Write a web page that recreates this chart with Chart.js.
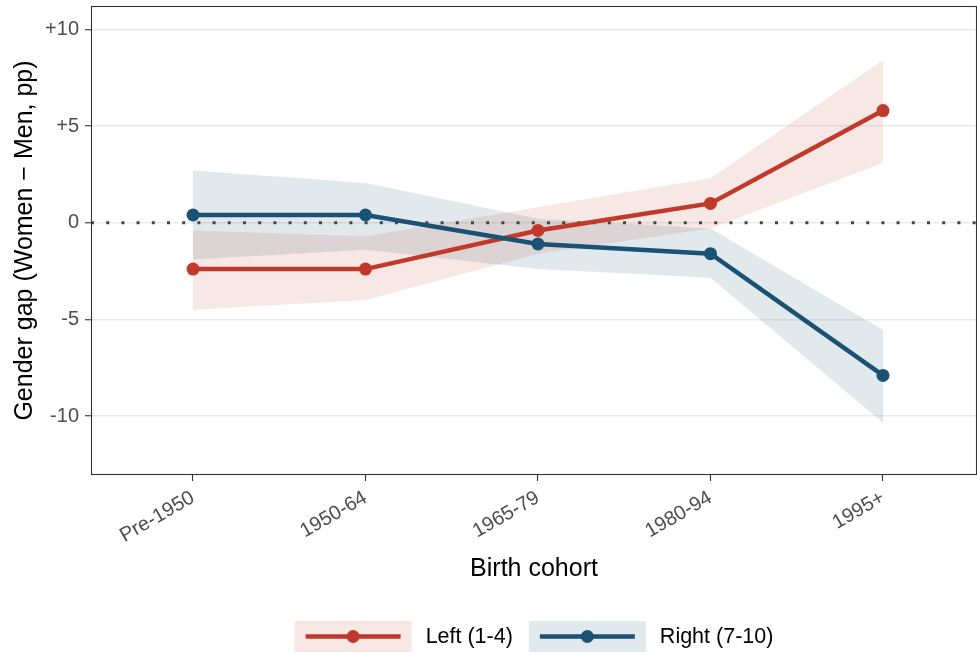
<!DOCTYPE html>
<html>
<head>
<meta charset="utf-8">
<script src="https://cdn.jsdelivr.net/npm/chart.js@4.4.0/dist/chart.umd.min.js"></script>
<style>
  html, body { margin: 0; padding: 0; background: #fff; }
</style>
</head>
<body>
<canvas id="gapChart" width="977" height="654"></canvas>
<script>
const cohorts = ['Pre-1950', '1950-64', '1965-79', '1980-94', '1995+'];
const yTicks = [-10, -5, 0, 5, 10];

// Left (1-4): estimate with 95% interval
const leftGap  = [-2.4, -2.4, -0.4, 1.0, 5.8];
const leftLow  = [-4.5, -4.0, -1.6, -0.3, 3.1];
const leftHigh = [-0.4, -0.7, 0.8, 2.3, 8.4];

// Right (7-10)
const rightGap  = [0.4, 0.4, -1.1, -1.6, -7.9];
const rightLow  = [-1.9, -1.4, -2.4, -2.85, -10.35];
const rightHigh = [2.7, 2.05, 0.2, -0.3, -5.55];

const RED = '#c0392b';
const BLUE = '#1a5276';
const RED_BAND = 'rgba(192, 57, 43, 0.12)';
const BLUE_BAND = 'rgba(26, 82, 118, 0.13)';
const FONT = "'Liberation Sans', Arial, Helvetica, sans-serif";

const pts = arr => arr.map((v, i) => ({ x: i + 1, y: v }));

const band = (data, fill, color) => ({
  data: pts(data),
  fill: fill,
  backgroundColor: color,
  borderColor: 'transparent',
  borderWidth: 0,
  pointRadius: 0,
  pointHoverRadius: 0,
  order: 5
});

const line = (label, data, color, order) => ({
  label: label,
  data: pts(data),
  borderColor: color,
  backgroundColor: color,
  borderWidth: 4.5,
  pointRadius: 6.5,
  pointHoverRadius: 6.5,
  pointBorderWidth: 0,
  pointBackgroundColor: color,
  fill: false,
  order: order
});

const legendItems = [
  { label: 'Left (1-4)', color: RED, band: RED_BAND },
  { label: 'Right (7-10)', color: BLUE, band: BLUE_BAND }
];

// zero reference line, drawn over the ribbons but under the lines
const zeroLine = {
  id: 'zeroLine',
  beforeDatasetDraw(chart, args) {
    if (args.index !== 4) return;
    const { ctx, chartArea } = chart;
    const y = chart.scales.y.getPixelForValue(0);
    ctx.save();
    ctx.strokeStyle = '#454545';
    ctx.lineWidth = 3;
    ctx.setLineDash([3, 12.2]);
    ctx.beginPath();
    ctx.moveTo(chartArea.left, y);
    ctx.lineTo(chartArea.right, y);
    ctx.stroke();
    ctx.restore();
  }
};

// panel frame and bottom legend
const frame = {
  id: 'frame',
  afterDraw(chart) {
    const { ctx, chartArea } = chart;
    ctx.save();
    ctx.strokeStyle = '#333333';
    ctx.lineWidth = 1.1;
    ctx.strokeRect(chartArea.left + 0.5, chartArea.top + 0.5,
      chartArea.right - chartArea.left - 1, chartArea.bottom - chartArea.top - 1);

    const boxW = 117, boxH = 31, gapText = 14, gapItem = 16;
    ctx.font = '21.5px ' + FONT;
    const widths = legendItems.map(it => ctx.measureText(it.label).width);
    let total = gapItem * (legendItems.length - 1);
    widths.forEach(w => { total += boxW + gapText + w; });
    let x = (chartArea.left + chartArea.right) / 2 - total / 2;
    const top = 621;
    const cy = top + boxH / 2;
    legendItems.forEach((it, i) => {
      ctx.fillStyle = it.band;
      ctx.fillRect(x, top, boxW, boxH);
      ctx.strokeStyle = it.color;
      ctx.lineWidth = 4.5;
      ctx.beginPath();
      ctx.moveTo(x + 11, cy);
      ctx.lineTo(x + boxW - 11, cy);
      ctx.stroke();
      ctx.fillStyle = it.color;
      ctx.beginPath();
      ctx.arc(x + boxW / 2, cy, 6.5, 0, Math.PI * 2);
      ctx.fill();
      ctx.fillStyle = '#000';
      ctx.textAlign = 'left';
      ctx.textBaseline = 'middle';
      ctx.fillText(it.label, x + boxW + gapText, cy + 1);
      x += boxW + gapText + widths[i] + gapItem;
    });
    ctx.restore();
  }
};

new Chart(document.getElementById('gapChart'), {
  type: 'line',
  data: {
    datasets: [
      band(leftLow, false, 'transparent'),
      band(leftHigh, '-1', RED_BAND),
      band(rightLow, false, 'transparent'),
      band(rightHigh, '-1', BLUE_BAND),
      line('Left (1-4)', leftGap, RED, 1),
      line('Right (7-10)', rightGap, BLUE, 0)
    ]
  },
  options: {
    responsive: false,
    animation: false,
    layout: {
      autoPadding: false,
      padding: { top: 6, right: 0, bottom: 70, left: 0 }
    },
    plugins: {
      legend: { display: false },
      tooltip: { enabled: false }
    },
    scales: {
      x: {
        type: 'linear',
        min: 0.4087,
        max: 5.545,
        afterBuildTicks: axis => { axis.ticks = cohorts.map((c, i) => ({ value: i + 1 })); },
        afterFit: axis => {
          axis.height = 109;
          axis.paddingLeft = 0;
          axis.paddingRight = 0;
        },
        border: { display: false },
        grid: {
          drawOnChartArea: false,
          tickLength: 6,
          tickColor: '#333333',
          tickWidth: 1.1
        },
        ticks: {
          autoSkip: false,
          minRotation: 30,
          maxRotation: 30,
          padding: 5,
          color: '#4d4d4d',
          font: { family: FONT, size: 20 },
          callback: v => cohorts[v - 1]
        },
        title: {
          display: true,
          text: 'Birth cohort',
          color: '#000',
          font: { family: FONT, size: 25 },
          padding: { top: 0, bottom: 0 }
        }
      },
      y: {
        min: -13.05,
        max: 11.21,
        afterBuildTicks: axis => { axis.ticks = yTicks.map(v => ({ value: v })); },
        afterFit: axis => {
          axis.width = 91;
          axis.paddingTop = 0;
          axis.paddingBottom = 0;
        },
        border: { display: false },
        grid: {
          color: '#ebebeb',
          lineWidth: 1.5,
          tickLength: 6,
          tickColor: '#333333',
          tickWidth: 1.1
        },
        ticks: {
          padding: 6,
          color: '#4d4d4d',
          font: { family: FONT, size: 20 },
          callback: v => (v > 0 ? '+' + v : String(v))
        },
        title: {
          display: true,
          text: 'Gender gap (Women \u2212 Men, pp)',
          color: '#000',
          font: { family: FONT, size: 25 },
          padding: { top: 10, bottom: 0 }
        }
      }
    }
  },
  plugins: [zeroLine, frame]
});
</script>
</body>
</html>
